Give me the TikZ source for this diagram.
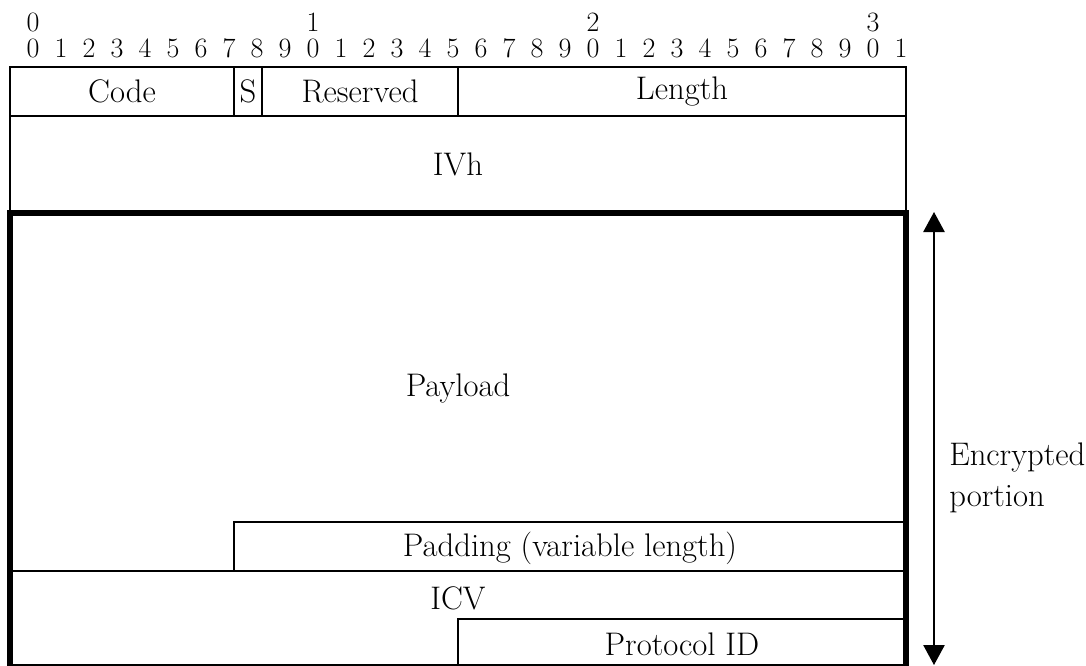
\documentclass[tikz,border=0pt]{standalone}
\usepackage{tikz}
\usetikzlibrary{arrows.meta,positioning,calc}
\tikzset{
  fld/.style={draw=black, line width=1.3pt},
  encbox/.style={draw=black, line width=4pt},
  lbl/.style={font=\fontsize{24.5}{29}\selectfont, inner sep=0pt},
  sidelbl/.style={font=\fontsize{24.5}{31}\selectfont, inner sep=0pt, align=left},
  bitlbl/.style={font=\fontsize{21}{25}\selectfont, inner sep=0pt},
  span/.style={{Triangle[length=15pt,width=16pt]}-{Triangle[length=15pt,width=16pt]}, line width=1.1pt}
}

\begin{document}
\begin{tikzpicture}[x=0.75pt, y=-0.75pt]
  \useasboundingbox (0,0) rectangle (1086,665);

  % bit ruler
  \foreach \i in {0,...,31}{
    \pgfmathtruncatemacro{\d}{mod(\i,10)}
    \node[bitlbl] (bit\i) at (33+28*\i,48) {\d};
  }
  \foreach \t in {0,1,2,3}{
    \node[bitlbl] (dec\t) at (33+280*\t,22) {\t};
  }

  % first word
  \draw[fld] (10,67) rectangle (906,116);
  \draw[fld] (234,67) -- (234,116) (262,67) -- (262,116) (458,67) -- (458,116);
  \node[lbl] (code) at (122,91) {Code};
  \node[lbl] (sflag) at (248,91) {S};
  \node[lbl] (resv) at (360,91) {Reserved};
  \node[lbl] (len) at (682,91) {Length};

  % IV
  \draw[fld] (10,116) rectangle (906,213);
  \node[lbl] (ivh) at (458,164) {IVh};

  % encrypted part
  \draw[fld] (234,522) rectangle (906,571);
  \draw[fld] (10,571) -- (906,571);
  \draw[fld] (458,619) rectangle (906,667);
  \draw[encbox] (10,213) rectangle (906,667);
  \node[lbl] (pay) at (458,388) {Payload};
  \node[lbl] (pad) at (570,548) {Padding (variable length)};
  \node[lbl] (icv) at (458,598) {ICV};
  \node[lbl] (pid) at (682,644) {Protocol ID};

  % extent of encryption
  \coordinate (etop) at (934,212);
  \coordinate (ebot) at (934,665);
  \draw[span] (etop) -- (ebot);
  \node[sidelbl, anchor=west] (encl) at (949,478) {Encrypted\\portion};
\end{tikzpicture}
\end{document}
